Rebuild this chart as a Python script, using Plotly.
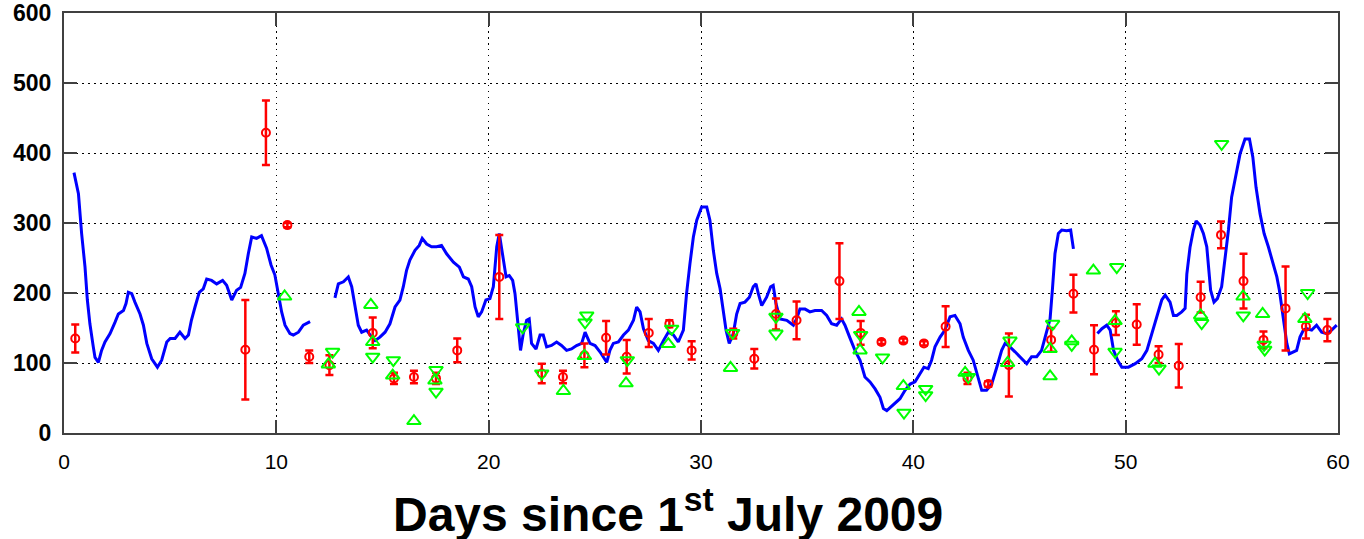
import plotly.graph_objects as go

# ---- blue continuous series (None = data gap) ----
line_day = [0.47, 0.68, 0.83, 0.99, 1.10, 1.22, 1.38, 1.46, 1.62, 1.77, 1.93, 2.17, 2.40, 2.56, 2.80, 2.92, 3.03, 3.19, 3.34, 3.58,
            3.74, 3.90, 4.13, 4.40, 4.60, 4.84, 5.00, 5.23, 5.46, 5.70, 5.86, 6.00, 6.17, 6.37, 6.56, 6.72, 6.95, 7.19, 7.47, 7.66,
            7.90, 8.13, 8.32, 8.52, 8.68, 8.84, 9.07, 9.30, 9.54, 9.75, 9.93, 10.08, 10.25, 10.41, 10.64, 10.80, 11.04, 11.27, 11.59,
            None,
            12.76, 12.92, 13.16, 13.39, 13.55, 13.71, 13.86, 14.02, 14.25, 14.49, 14.65, 14.88, 15.12, 15.35, 15.59, 15.82, 15.98,
            16.13, 16.29, 16.53, 16.73, 16.87, 17.08, 17.31, 17.55, 17.78, 18.02, 18.34, 18.62, 18.81, 19.04, 19.20, 19.36, 19.51,
            19.67, 19.87, 20.06, 20.22, 20.38, 20.50, 20.66, 20.82, 20.97, 21.13, 21.24, 21.40, 21.50, 21.63, 21.79, 21.91, 22.02,
            22.23, 22.42, 22.57, 22.73, 22.96, 23.20, 23.43, 23.67, 23.90, 24.14, 24.38, 24.54, 24.77, 25.01, 25.24, 25.40, 25.56,
            25.71, 25.87, 26.11, 26.35, 26.58, 26.82, 26.97, 27.13, 27.29, 27.52, 27.76, 27.99, 28.23, 28.46, 28.70, 28.93, 29.17,
            29.32, 29.48, 29.64, 29.80, 30.03, 30.27, 30.42, 30.58, 30.74, 30.90, 31.05, 31.18, 31.33, 31.52, 31.68, 31.84, 32.07,
            32.28, 32.46, 32.59, 32.70, 32.86, 33.09, 33.28, 33.40, 33.53, 33.72, 34.04, 34.35, 34.50, 34.66, 34.90, 35.13, 35.37,
            35.68, 35.92, 36.15, 36.39, 36.62, 36.78, 37.00, 37.25, 37.49, 37.72, 37.96, 38.20, 38.43, 38.59, 38.75, 39.06, 39.37,
            39.61, 39.85, 40.08, 40.31, 40.50, 40.70, 40.86, 41.02, 41.26, 41.49, 41.73, 41.96, 42.20, 42.35, 42.59, 42.82, 43.06,
            43.22, 43.45, 43.69, 43.93, 44.16, 44.32, 44.55, 44.79, 45.10, 45.34, 45.57, 45.81, 46.04, 46.28, 46.44, 46.55, 46.67,
            46.83, 46.99, 47.22, 47.41, 47.54,
            None,
            48.67, 48.88, 49.11, 49.27, 49.43, 49.62, 49.82, 50.13, 50.45, 50.76, 51.00, 51.23, 51.47, 51.70, 51.86, 52.09, 52.25,
            52.41, 52.64, 52.80, 52.88, 53.03, 53.19, 53.32, 53.50, 53.66, 53.82, 53.90, 54.00, 54.16, 54.32, 54.52, 54.68, 54.84,
            54.99, 55.15, 55.39, 55.62, 55.83, 55.99, 56.14, 56.33, 56.52, 56.72, 56.96, 57.12, 57.24, 57.35, 57.48, 57.59, 57.71,
            57.90, 58.05, 58.21, 58.37, 58.52, 58.76, 58.99, 59.23, 59.47, 59.70, 59.94]
line_val = [372, 342, 285, 237, 190, 156, 123, 108, 101, 118, 130, 142, 158, 170, 175, 185, 201, 199, 187, 170,
            154, 128, 106, 94, 104, 130, 135, 135, 144, 135, 140, 161, 180, 201, 206, 220, 218, 213, 218, 211,
            190, 204, 208, 228, 256, 280, 278, 282, 264, 240, 226, 199, 173, 154, 142, 140, 144, 154, 159,
            None,
            193, 213, 216, 223, 209, 180, 154, 144, 147, 137, 132, 137, 144, 156, 180, 190, 209,
            232, 247, 261, 268, 278, 270, 266, 266, 268, 256, 244, 237, 223, 220, 209, 180, 166,
            173, 190, 192, 209, 266, 285, 256, 223, 225, 218, 199, 142, 118, 142, 161, 163, 128,
            120, 140, 140, 123, 125, 130, 125, 118, 120, 125, 128, 144, 128, 125, 116, 109, 101,
            118, 128, 130, 140, 147, 161, 180, 173, 149, 132, 128, 118, 132, 144, 140, 130, 147,
            199, 242, 280, 304, 323, 323, 304, 261, 228, 206, 175, 147, 128, 142, 170, 185, 187,
            194, 209, 213, 199, 182, 194, 209, 211, 185, 163, 161, 154, 163, 177, 177, 173, 175,
            175, 168, 156, 154, 163, 154, 137, 118, 104, 80, 73, 63, 51, 35, 32, 40, 49,
            61, 70, 73, 85, 94, 92, 104, 123, 137, 147, 166, 168, 156, 137, 118, 104, 80,
            61, 61, 70, 94, 118, 128, 123, 116, 106, 99, 109, 109, 118, 143, 163, 205, 256,
            285, 290, 289, 290, 263,
            None,
            142, 149, 154, 147, 118, 104, 94, 94, 99, 106, 118, 142, 166, 190, 197, 187, 168,
            168, 173, 178, 227, 265, 290, 303, 297, 285, 266, 237, 204, 187, 192, 209, 247, 290,
            337, 361, 399, 420, 420, 394, 351, 313, 285, 266, 242, 223, 204, 180, 151, 128, 113,
            116, 118, 137, 147, 149, 147, 154, 144, 142, 147, 154]

# ---- red circles with error bars ----
red_day = [0.53, 8.54, 9.51, 10.52, 11.55, 12.50, 14.54, 15.54, 16.48, 17.52, 18.52, 20.50, 22.50, 23.50, 24.51, 25.53,
           26.50, 27.54, 28.51, 29.56, 31.52, 32.51, 33.53, 34.50, 36.52, 37.52, 38.50, 39.53, 40.50, 41.52, 42.55, 43.53,
           44.50, 46.49, 47.54, 48.51, 49.54, 50.52, 51.55, 52.50, 53.53, 54.49, 55.55, 56.49, 57.53, 58.49, 59.50]
red_val = [135, 119, 429, 297, 109, 97, 143, 78, 80, 78, 118, 223, 85, 80, 111, 136,
           109, 143, 156, 118, 142, 106, 170, 161, 217, 143, 130, 132, 128, 152, 78, 70,
           97, 133, 199, 119, 157, 155, 112, 96, 194, 283, 217, 133, 178, 152, 147]
red_err = [20, 71, 46, 3, 9, 14, 22, 8, 9, 8, 17, 60, 14, 9, 17, 24,
           24, 20, 5, 13, 7, 14, 22, 27, 54, 17, 3, 3, 3, 29, 8, 4,
           45, 17, 27, 35, 17, 29, 12, 31, 22, 19, 39, 12, 60, 17, 16]

# ---- green up triangles ----
up_day = [10.39, 12.45, 14.45, 14.54, 15.48, 16.48, 17.47, 23.52, 24.51, 26.47, 28.46, 31.39, 37.44, 37.49,
          39.53, 42.44, 44.44, 46.44, 46.44, 47.46, 48.48, 49.50, 51.38, 53.53, 55.53, 56.45, 58.44]
up_val = [195, 98, 183, 130, 82, 17, 75, 60, 110, 71, 127, 93, 173, 118,
          67, 86, 100, 120, 81, 131, 232, 160, 99, 168, 195, 170, 163]

# ---- green down triangles ----
down_day = [12.65, 14.54, 15.51, 17.52, 17.52, 21.60, 22.50, 24.62, 24.54, 26.53, 28.62, 31.49, 33.53, 33.53,
            37.52, 38.55, 39.56, 40.58, 40.58, 42.59, 44.55, 46.56, 47.46, 49.58, 49.50, 51.57, 53.58, 54.52,
            55.54, 56.52, 56.55, 58.57]
down_val = [116, 109, 104, 90, 59, 151, 85, 168, 158, 104, 149, 143, 166, 142,
            140, 108, 29, 63, 54, 80, 132, 156, 126, 237, 116, 92, 157, 413,
            168, 126, 119, 200]

x_ticks = [0, 10, 20, 30, 40, 50, 60]
y_ticks = [0, 100, 200, 300, 400, 500, 600]
x_title = "<b>Days since 1<sup>st</sup> July 2009</b>"

fig = go.Figure()
fig.add_trace(go.Scatter(x=line_day, y=line_val, mode="lines",
                         line=dict(color="#0000FF", width=3), connectgaps=False, showlegend=False))
fig.add_trace(go.Scatter(x=red_day, y=red_val, mode="markers",
                         marker=dict(symbol="circle-open", size=8, color="#FF0000", line=dict(width=2, color="#FF0000")),
                         error_y=dict(type="data", array=red_err, visible=True, color="#FF0000", thickness=2.5, width=4),
                         showlegend=False))
fig.add_trace(go.Scatter(x=up_day, y=up_val, mode="markers",
                         marker=dict(symbol="triangle-up-open", size=12, color="#00FF00", line=dict(width=2, color="#00FF00")),
                         showlegend=False))
fig.add_trace(go.Scatter(x=down_day, y=down_val, mode="markers",
                         marker=dict(symbol="triangle-down-open", size=12, color="#00FF00", line=dict(width=2, color="#00FF00")),
                         showlegend=False))

axis_common = dict(showline=True, linecolor="#404040", linewidth=2, mirror="ticks",
                   ticks="inside", ticklen=13, tickwidth=1.5, tickcolor="#404040",
                   showgrid=True, gridcolor="black", gridwidth=1.2, griddash="1.5px,4.5px",
                   zeroline=False, automargin=False)

fig.update_xaxes(range=[0, 60], tickvals=x_ticks, ticktext=[str(v) for v in x_ticks],
                 tickfont=dict(family="Liberation Sans, Arial, sans-serif", size=21, color="black"),
                 ticklabelstandoff=9, **axis_common)
fig.update_yaxes(range=[0, 600], tickvals=y_ticks, ticktext=[str(v) for v in y_ticks],
                 tickfont=dict(family="Liberation Sans, Arial, sans-serif", size=23, color="black", weight="bold"),
                 ticklabelstandoff=6, **axis_common)

fig.add_annotation(text=x_title, xref="paper", yref="paper", x=0.474, y=-0.185,
                   xanchor="center", yanchor="middle", showarrow=False,
                   font=dict(family="Liberation Sans, Arial, sans-serif", size=48, color="black"))

fig.update_layout(width=1364, height=539, margin=dict(l=64, r=26, t=13, b=106, pad=0, autoexpand=False),
                  paper_bgcolor="white", plot_bgcolor="white", showlegend=False)

fig.write_html("out.html", config={"displayModeBar": False},
               post_script="document.body.style.margin='0';document.body.style.overflow='hidden';")
